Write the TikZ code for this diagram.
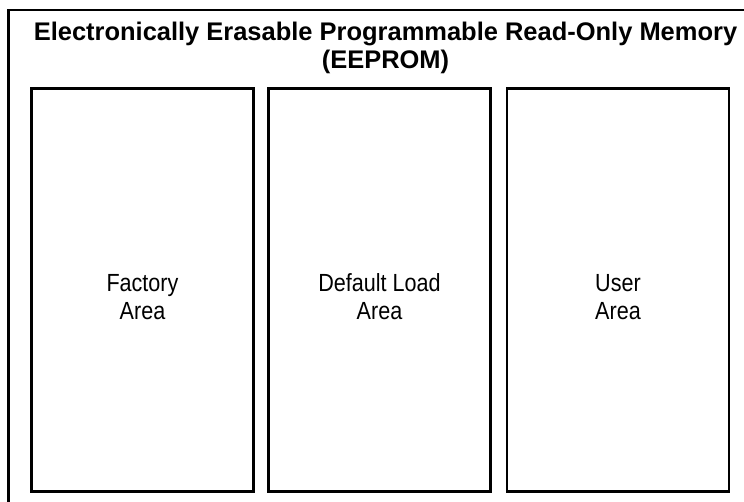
\documentclass[tikz,border=0pt]{standalone}
\usepackage{fontspec}
\setmainfont{Liberation Sans}
\newfontfamily\areafont[FakeStretch=0.87]{Liberation Sans}
\begin{document}
\begin{tikzpicture}[x=0.75pt,y=-0.75pt,
  area/.style={draw,line width=2.2pt,minimum width=222*0.75pt,minimum height=403*0.75pt,inner sep=0pt},
  areatext/.style={font=\areafont\fontsize{18.6}{21}\selectfont,align=center,inner sep=0pt},
  titlestyle/.style={align=center,font=\bfseries\fontsize{19.1}{20.8}\selectfont,inner sep=0pt}]
\useasboundingbox (0,0) rectangle (744,502);
\clip (0,0) rectangle (744,502);
\draw[line width=1.6pt] (8.5,10) rectangle (765,520);
\node[titlestyle] (title) at (385.5,48) {Electronically Erasable Programmable Read-Only Memory\\(EEPROM)};
\node[area] (factory) at (142.5,290) {};
\node[area] (default) at (379.5,290) {};
\node[area] (user) at (618,290) {};
\node[areatext] (ftext) at (factory.center) [yshift=-5.25pt] {Factory\\Area};
\node[areatext] (dtext) at (default.center) [yshift=-5.25pt] {Default Load\\Area};
\node[areatext] (utext) at (user.center) [yshift=-5.25pt] {User\\Area};
\end{tikzpicture}
\end{document}
